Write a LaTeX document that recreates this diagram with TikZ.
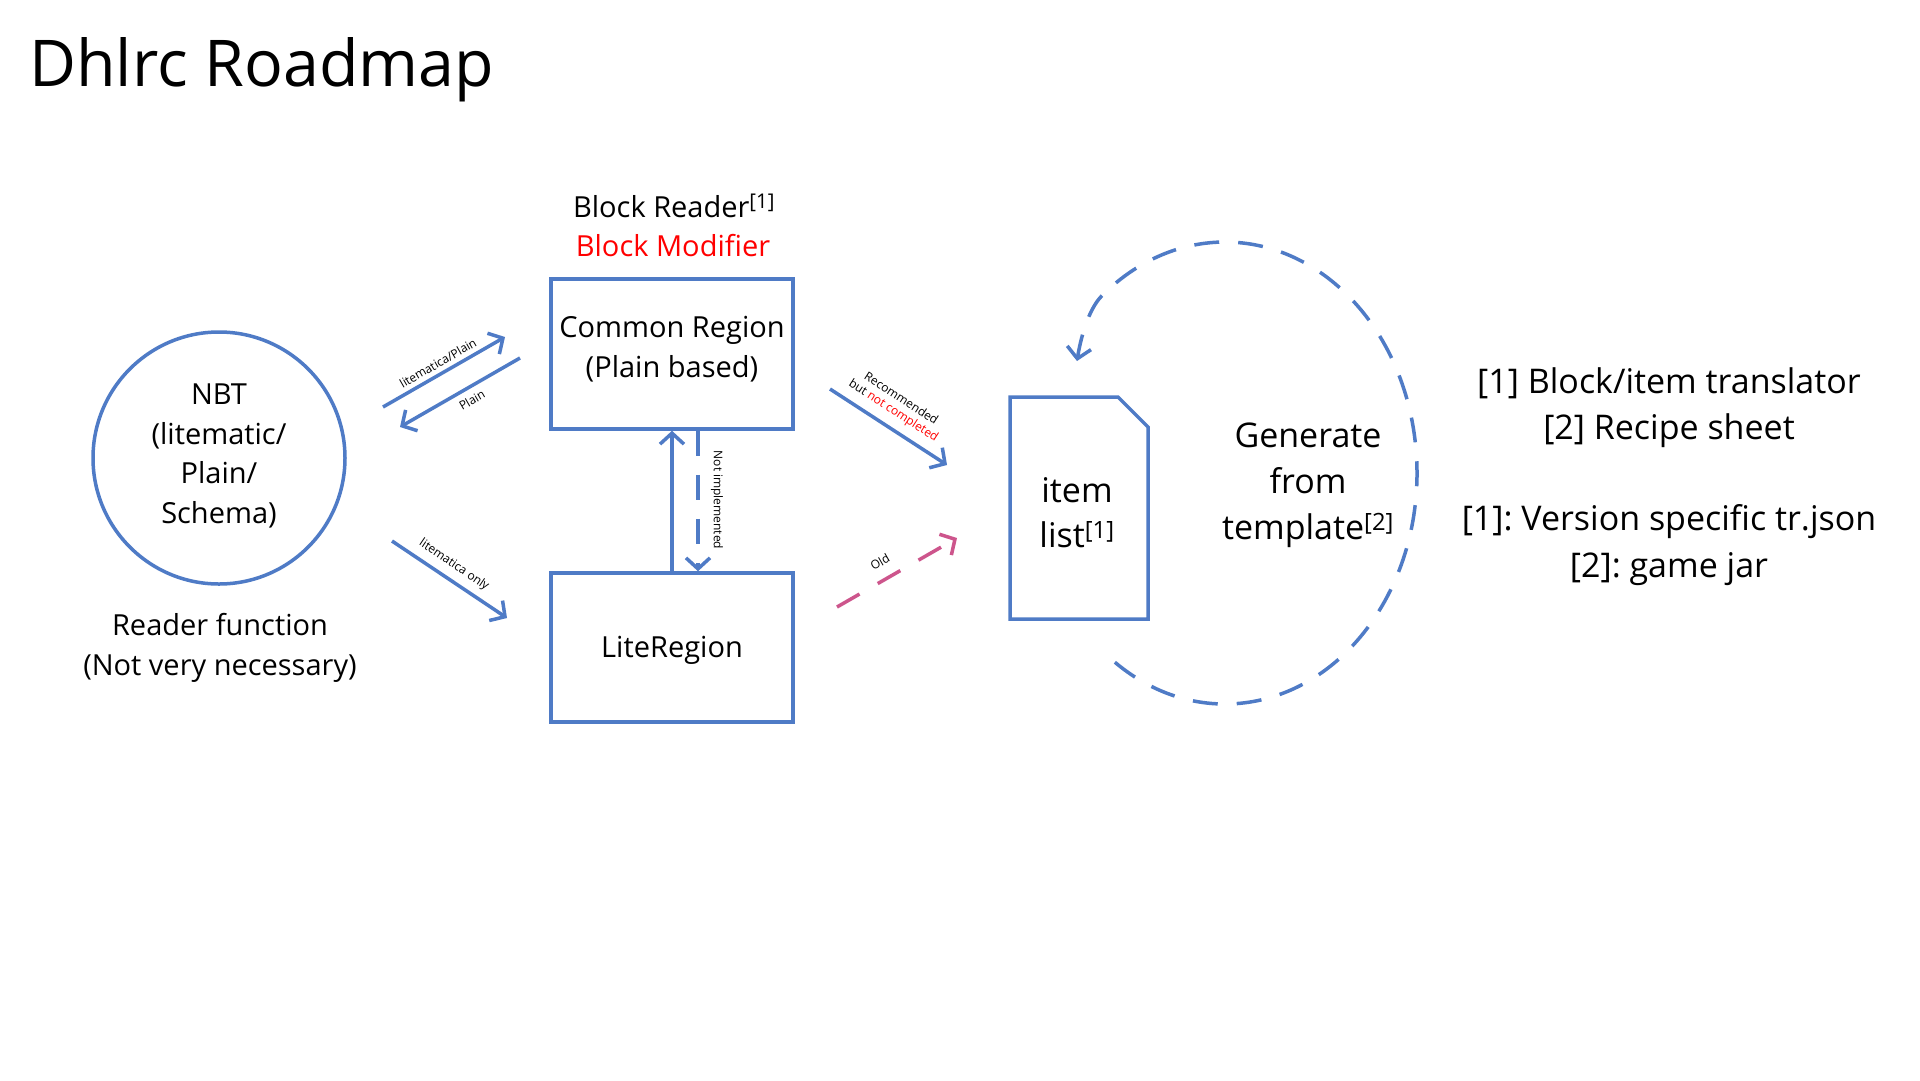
\documentclass[tikz,border=0pt]{standalone}
\usepackage{fontspec}
\setmainfont{Open Sans}
\usetikzlibrary{arrows.meta,calc}
\definecolor{myblue}{HTML}{4F7BC6}
\definecolor{oldpink}{HTML}{CD558C}
\frenchspacing
\begin{document}
\begin{tikzpicture}[x=1pt,y=-1pt,
  shapeline/.style={draw=myblue, line width=3.5pt},
  conn/.style={myblue, line width=3.5pt, -{Straight Barb[length=11pt,width=24pt]}},
  dashconn/.style={conn, dash pattern=on 25pt off 19pt},
  txt/.style={font=\fontsize{29}{39.5}\selectfont, align=center, inner sep=0pt},
  bigtxt/.style={font=\fontsize{34}{46}\selectfont, align=center, inner sep=0pt},
  small/.style={font=\fontsize{12}{14}\selectfont, align=center, inner sep=0pt},
]
\useasboundingbox[fill=white] (0,0) rectangle (1920,1080);

% title
\node[anchor=base west, inner sep=0pt, font=\fontsize{64.5}{72}\selectfont] (title) at (29,86) {Dhlrc Roadmap};

% NBT circle
\node[circle, shapeline, minimum size=252pt, inner sep=0pt] (nbt) at (219,458) {};
\node[txt] (nbttxt) at (219,456) {NBT\\(litematic/\\Plain/\\Schema)};
\node[txt] (readerfn) at (220,648) {Reader function\\(Not very necessary)};

% Common Region
\node[shapeline, minimum width=242pt, minimum height=150pt, inner sep=0pt] (cr) at (672,354) {};
\node[txt] (crtxt) at (672,349) {Common Region\\(Plain based)};
\node[txt] (blockrd) at (674,206) {Block Reader\textsuperscript{[1]}};
\node[txt, text=red] (blockmod) at (673,246) {Block Modifier};

% LiteRegion
\node[shapeline, minimum width=242pt, minimum height=149pt, inner sep=0pt] (lr) at (672,647.5) {};
\node[txt] (lrtxt) at (672,650.5) {LiteRegion};

% arrows NBT <-> Common Region
\coordinate (a1s) at (383,407);
\coordinate (a1e) at (505,337);
\draw[conn] (a1s) -- (a1e);
\node[small, rotate=30] (l1) at (438,363) {litematica/Plain};

\coordinate (a2s) at (520,358);
\coordinate (a2e) at (400,427);
\draw[conn] (a2s) -- (a2e);
\node[small, rotate=30] (l2) at (472,400) {Plain};

\coordinate (a3s) at (392,541);
\coordinate (a3e) at (507,618);
\draw[conn] (a3s) -- (a3e);
\node[small, rotate=-34] (l3) at (454,565) {litematica only};

% Lite <-> Common
\draw[conn] (lr.north) -- (cr.south);
\draw[dashconn] ([xshift=26pt]cr.south) -- ([xshift=26pt]lr.north);
\node[small, rotate=-90] (l4) at (717,500) {Not implemented};

% item list
\draw[shapeline, line join=miter] (1010,397) -- (1118,397) -- (1148,427) -- (1148,619) -- (1010,619) -- cycle;
\node[bigtxt, font=\fontsize{34}{45}\selectfont] (item) at (1077,513) {item\\list\textsuperscript{[1]}};

% recommended
\coordinate (a5s) at (830,389);
\coordinate (a5e) at (947,465);
\draw[conn] (a5s) -- (a5e);
\node[small, rotate=-33] (l5) at (897,405) {Recommended\\but \textcolor{red}{not completed}};

% old
\coordinate (a6s) at (837,607);
\coordinate (a6e) at (957,538);
\draw[conn, oldpink, dash pattern=on 26pt off 21pt] (a6s) -- (a6e);
\node[small, rotate=30] (l6) at (880,562) {Old};

% generate loop
\coordinate (gc) at (1225,473);
\coordinate (gend) at (1077,361);
\draw[dashconn] ($(gc)+(125:192 and 231)$) arc[start angle=125, end angle=-130, x radius=192, y radius=231]
   .. controls (1088,310) and (1080.5,339) .. (gend);
\node[bigtxt] (gen) at (1308,485) {Generate\\from\\template\textsuperscript{[2]}};

% notes
\node[bigtxt, font=\fontsize{34}{46.5}\selectfont] (notes1) at (1669,407.5) {[1] Block/item translator\\{}[2] Recipe sheet};
\node[bigtxt, font=\fontsize{34}{46.5}\selectfont] (notes2) at (1669,545) {[1]: Version specific tr.json\\{}[2]: game jar};
\end{tikzpicture}
\end{document}
